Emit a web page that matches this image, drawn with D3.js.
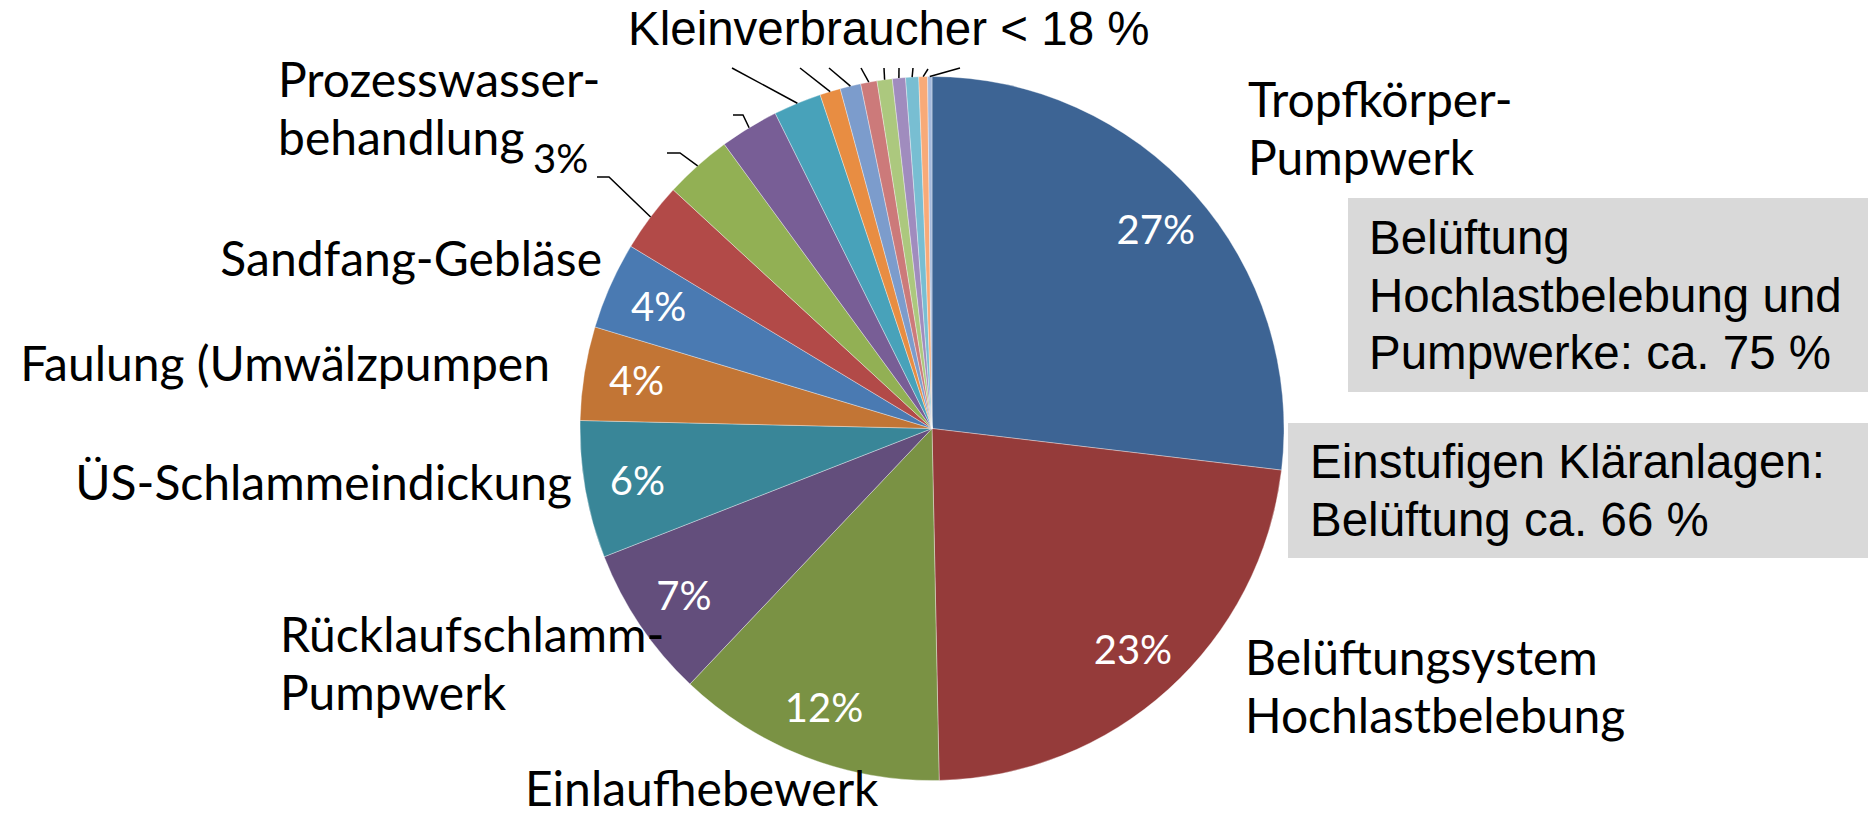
<!DOCTYPE html>
<html>
<head>
<meta charset="utf-8">
<script src="https://cdn.jsdelivr.net/npm/d3@7"></script>
<style>
  body { margin: 0; background: #fff; }
  svg { display: block; }
</style>
</head>
<body>
<div id="chart"></div>
<script>
var WIDTH = 1868, HEIGHT = 816;

// slices, clockwise from 12 o'clock (the small ones had their names removed in the original)
var categories = [
  "Tropfkörper-\nPumpwerk",
  "Belüftungsystem\nHochlastbelebung",
  "Einlaufhebewerk",
  "Rücklaufschlamm-\nPumpwerk",
  "ÜS-Schlammeindickung",
  "Faulung (Umwälzpumpen",
  "Sandfang-Gebläse",
  "Prozesswasser-\nbehandlung",
  "", "", "", "", "", "", "", "", "", "", ""
];
var shares = [26.9, 22.8, 12.4, 7.0, 6.3, 4.3, 4.0, 3.2, 3.1, 2.7, 2.2, 0.95, 0.95, 0.75, 0.7, 0.6, 0.6, 0.4, 0.2];
var colors = [
  "#3d6494", "#953b3a", "#7a9244", "#634e7c", "#398698", "#c27535",
  "#4a7ab2", "#b24a48", "#92b054", "#785e96", "#48a2ba", "#e88d42",
  "#7c9ccc", "#cc7a7a", "#acc87e", "#a08cbe", "#78bed2", "#f8aa78", "#a6badc"
];
// which slices show their % inside (white) and which outside (black)
var pctInside = [0, 1, 2, 3, 4, 5, 6];
var pctOutside = [7];

var notes = ["Kleinverbraucher < 18 %"];
var boxes = [
  ["Belüftung", "Hochlastbelebung und", "Pumpwerke: ca. 75 %"],
  ["Einstufigen Kläranlagen:", "Belüftung ca. 66 %"]
];

// manual label placement (as in the original slide)
var labelPos = [
  [1248, 117, "start"], [1245, 675, "start"], [525, 806, "start"], [280, 652, "start"],
  [572, 500, "end"], [550, 381, "end"], [602, 276, "end"], [278, 97, "start"]
];
var leaderEnd = {
  7: [609, 177, 597], 8: [680, 153, 667], 9: [743, 115, 733],
  10: [732, 68], 11: [800, 68], 12: [829, 68], 13: [861, 68], 14: [884, 68],
  15: [899, 68], 16: [913, 68], 17: [928, 69], 18: [960, 68]
};

var cx = 932, cy = 428.5, radius = 352,
    lineH = 58,
    labelFont = "Lato, 'Open Sans', sans-serif",
    boxFont = "'Liberation Sans', Arial, sans-serif";

var svg = d3.select("#chart").append("svg")
    .attr("width", WIDTH)
    .attr("height", HEIGHT);

var data = shares.map(function (v, i) { return {name: categories[i], value: v, i: i}; });
var total = d3.sum(shares);
var fmt = d3.format(".0%");

var pie = d3.pie().sort(null).value(function (d) { return d.value; }),
    arc = d3.arc().innerRadius(0).outerRadius(radius),
    edgeArc = d3.arc().innerRadius(radius).outerRadius(radius),
    labelArc = d3.arc().innerRadius(radius * 0.85).outerRadius(radius * 0.85);

var arcs = pie(data);

var g = svg.append("g").attr("transform", "translate(" + cx + "," + cy + ")");

g.selectAll("path.slice")
    .data(arcs)
  .enter().append("path")
    .attr("class", "slice")
    .attr("d", arc)
    .attr("fill", function (d) { return colors[d.index]; })
    .attr("stroke", "#fff")
    .attr("stroke-opacity", 0.5)
    .attr("stroke-width", 0.7);

// leader lines
arcs.forEach(function (d) {
  var e = leaderEnd[d.index];
  if (!e) return;
  var p = edgeArc.centroid(d);
  var pts = [[cx + p[0], cy + p[1]], [e[0], e[1]]];
  if (e.length > 2) pts.push([e[2], e[1]]);
  svg.append("path")
      .attr("d", d3.line()(pts))
      .attr("fill", "none")
      .attr("stroke", "#000")
      .attr("stroke-width", 1.5);
});

// percentages inside
g.selectAll("text.pct")
    .data(arcs.filter(function (d) { return pctInside.indexOf(d.index) >= 0; }))
  .enter().append("text")
    .attr("class", "pct")
    .attr("transform", function (d) { return "translate(" + labelArc.centroid(d) + ")"; })
    .attr("text-anchor", "middle")
    .attr("dy", "0.35em")
    .style("font-family", labelFont)
    .style("font-size", "40px")
    .attr("fill", "#fff")
    .text(function (d) { return fmt(d.value / total); });

// category labels
arcs.forEach(function (d) {
  var pos = labelPos[d.index];
  if (!pos || !d.data.name) return;
  var t = svg.append("text")
      .attr("x", pos[0]).attr("y", pos[1])
      .attr("text-anchor", pos[2])
      .style("font-family", labelFont)
      .style("font-size", "48px")
      .attr("fill", "#000");
  d.data.name.split("\n").forEach(function (line, k) {
    t.append("tspan").attr("x", pos[0]).attr("dy", k ? lineH : 0).text(line);
  });
});

// % outside (Prozesswasserbehandlung)
pctOutside.forEach(function (i) {
  svg.append("text")
      .attr("x", 533).attr("y", 173)
      .style("font-family", labelFont)
      .style("font-size", "40px")
      .attr("fill", "#000")
      .text(fmt(shares[i] / total));
});

// free text on top
svg.append("text")
    .attr("x", 628).attr("y", 45)
    .style("font-family", boxFont)
    .style("font-size", "47.5px")
    .text(notes[0]);

// grey note boxes
var boxGeo = [
  {x: 1348, y: 198, h: 194, tx: 1369, ty: 254},
  {x: 1288, y: 423, h: 135, tx: 1310, ty: 478}
];
boxes.forEach(function (lines, b) {
  var geo = boxGeo[b];
  svg.append("rect")
      .attr("x", geo.x).attr("y", geo.y)
      .attr("width", WIDTH - geo.x).attr("height", geo.h)
      .attr("fill", "#d9d9d9");
  var t = svg.append("text")
      .style("font-family", boxFont)
      .style("font-size", "47.5px")
      .attr("fill", "#000");
  lines.forEach(function (line, k) {
    t.append("tspan").attr("x", geo.tx).attr("y", geo.ty + k * 57.5).text(line);
  });
});
</script>
</body>
</html>
